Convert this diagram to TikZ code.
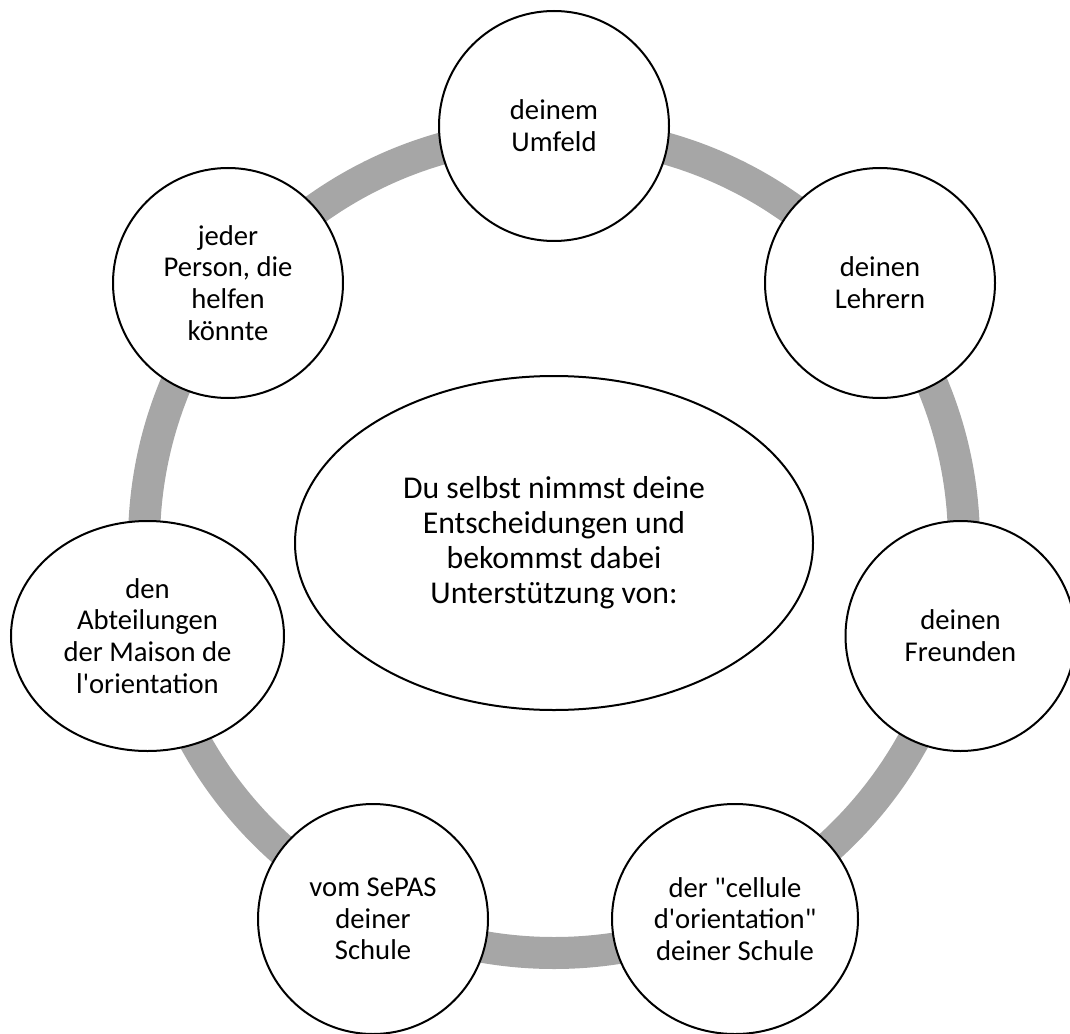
\documentclass[tikz,border=0pt]{standalone}
\usepackage{fontspec}
\setmainfont{Carlito}
\usetikzlibrary{shapes.geometric}
\definecolor{ringgray}{RGB}{166,166,166}
\tikzset{
  bub/.style={ellipse, draw=black, line width=1.5pt, fill=white, inner sep=0pt,
    align=center, font=\fontsize{21.5}{23.8}\selectfont,
    minimum width=172.5pt, minimum height=172.5pt},
  centre/.style={ellipse, draw=black, line width=1.5pt, fill=white, inner sep=0pt,
    align=center, font=\fontsize{23.8}{26.2}\selectfont,
    minimum width=388.5pt, minimum height=250.5pt},
  ring/.style={draw=ringgray, line width=24pt}
}
\newcommand{\sq}{\textquotesingle}
\newcommand{\dq}{\textquotedbl}
\begin{document}
\begin{tikzpicture}[x=0.75pt,y=-0.75pt]
\useasboundingbox (0,0) rectangle (1070,1034);
\clip (0,0) rectangle (1070,1034);
\coordinate (ctr) at (554,543);
\draw[ring] (ctr) circle[radius=307.5pt];
\node[centre] (main) at (ctr) {Du selbst nimmst deine\\Entscheidungen und\\bekommst dabei\\Unterstützung von:};
\node[bub] (u) at (554,126) {deinem\\Umfeld};
\node[bub] (l) at (880,283) {deinen\\Lehrern};
\node[bub] (f) at (960.5,636) {deinen\\Freunden};
\node[bub, minimum width=184.5pt] (c) at (735,919) {der \dq cellule\\d\sq orientation\dq\\deiner Schule};
\node[bub] (s) at (373,919) {vom SePAS\\deiner\\Schule};
\node[bub, minimum width=204.75pt] (a) at (147.5,636) {den\\Abteilungen\\der Maison de\\l\sq orientation};
\node[bub] (j) at (228,283) {jeder\\Person, die\\helfen\\könnte};
\end{tikzpicture}
\end{document}
